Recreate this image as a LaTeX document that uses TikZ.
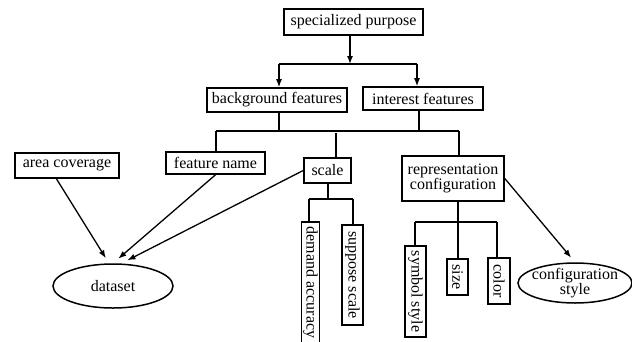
\documentclass[tikz,border=0pt]{standalone}
\usepackage{fontspec}
\setmainfont{Liberation Serif}
\usetikzlibrary{arrows.meta,shapes.geometric,calc}
\begin{document}
\begin{tikzpicture}[x=1pt,y=1pt,
 every node/.style={font=\fontsize{16}{15}\selectfont},
 bx/.style={draw, line width=1.6pt, inner sep=0pt, align=center},
 el/.style={draw, ellipse, line width=1.5pt, inner sep=0pt},
 ln/.style={line width=1.6pt},
 ar/.style={line width=1.3pt, -{Latex[length=8pt,width=6pt]}}]
\useasboundingbox (0,0) rectangle (632,-341);
% top level
\node[bx, minimum width=139, minimum height=26] (sp) at (353.5,-22) {specialized purpose};
\node[bx, minimum width=140, minimum height=24] (bg) at (277,-100) {background features};
\node[bx, minimum width=120, minimum height=23] (intf) at (423,-98.5) {interest features};
% second level
\node[bx, minimum width=104, minimum height=25] (ac) at (67,-165.5) {area coverage};
\node[bx, minimum width=99, minimum height=22] (fn) at (215.5,-163) {feature name};
\node[bx, minimum width=47, minimum height=25] (sc) at (327.5,-170.5) {scale};
\node[bx, minimum width=102, minimum height=45] (rc) at (453,-178.5) {representation\\configuration};
% rotated leaves
\node[bx, rotate=-90, minimum width=121, minimum height=18] (da) at (310.5,-282.5) {demand accuracy};
\node[bx, rotate=-90, minimum width=100, minimum height=21] (ss) at (352.5,-275) {suppose scale};
\node[bx, rotate=-90, minimum width=91, minimum height=21] (sy) at (415.5,-291.5) {symbol style};
\node[bx, rotate=-90, minimum width=36, minimum height=21] (sz) at (457.5,-277) {size};
\node[bx, rotate=-90, minimum width=46, minimum height=22] (co) at (499,-281) {color};
% ellipses
\node[el, minimum width=120, minimum height=44] (ds) at (113,-286) {};
\node (dsl) at (ds) {dataset};
\node[el, minimum width=114, minimum height=40] (cs) at (575,-283) {};
\node[align=center] (csl) at (cs) {configuration\\style};
% top bracket
\coordinate (j0) at (350,-64);
\coordinate (jl) at (279,-64);
\coordinate (jr) at (417,-64);
\draw[ar] (sp.south -| j0) -- (j0);
\draw[ln] (jl) -- (jr);
\draw[ar] (jl) -- (jl |- bg.north);
\draw[ar] (jr) -- (jr |- intf.north);
% second bracket
\coordinate (b1) at (279,-131);
\coordinate (b2) at (419,-131);
\coordinate (bl) at (216,-131);
\coordinate (br) at (459,-131);
\coordinate (bs) at (336,-133);
\draw[ln] (b1 |- bg.south) -- (b1);
\draw[ln] (b2 |- intf.south) -- (b2);
\draw[ln] (bl) -- (br);
\draw[ln] (bl) -- (bl |- fn.north);
\draw[ln] (br) -- (br |- rc.north);
\draw[ln] (bs) -- (bs |- sc.north);
% scale bracket
\coordinate (s0) at (328,-199);
\coordinate (sl) at (309,-199);
\coordinate (sr) at (353,-199);
\draw[ln] (s0 |- sc.south) -- (s0);
\draw[ln] (sl) -- (sr);
\draw[ln] (sl) -- (sl |- da.west);
\draw[ln] (sr) -- (sr |- ss.west);
% representation bracket
\coordinate (r0) at (458,-222);
\coordinate (rl) at (415,-222);
\coordinate (rr) at (497,-222);
\draw[ln] (r0 |- rc.south) -- (r0);
\draw[ln] (rl) -- (rr);
\draw[ln] (rl) -- (rl |- sy.west);
\draw[ln] (r0) -- (r0 |- sz.west);
\draw[ln] (rr) -- (rr |- co.west);
% arrows to dataset / configuration style
\draw[ar, shorten >=6pt] ($(ac.south west)!0.4!(ac.south east)$) -- (ds.100);
\draw[ar, shorten >=7pt] (fn.south) -- (ds.north);
\draw[ar, shorten >=7pt] (sc.west) -- (ds.70);
\draw[ar, shorten >=6pt] (rc.east) -- (cs.north);
\end{tikzpicture}
\end{document}
